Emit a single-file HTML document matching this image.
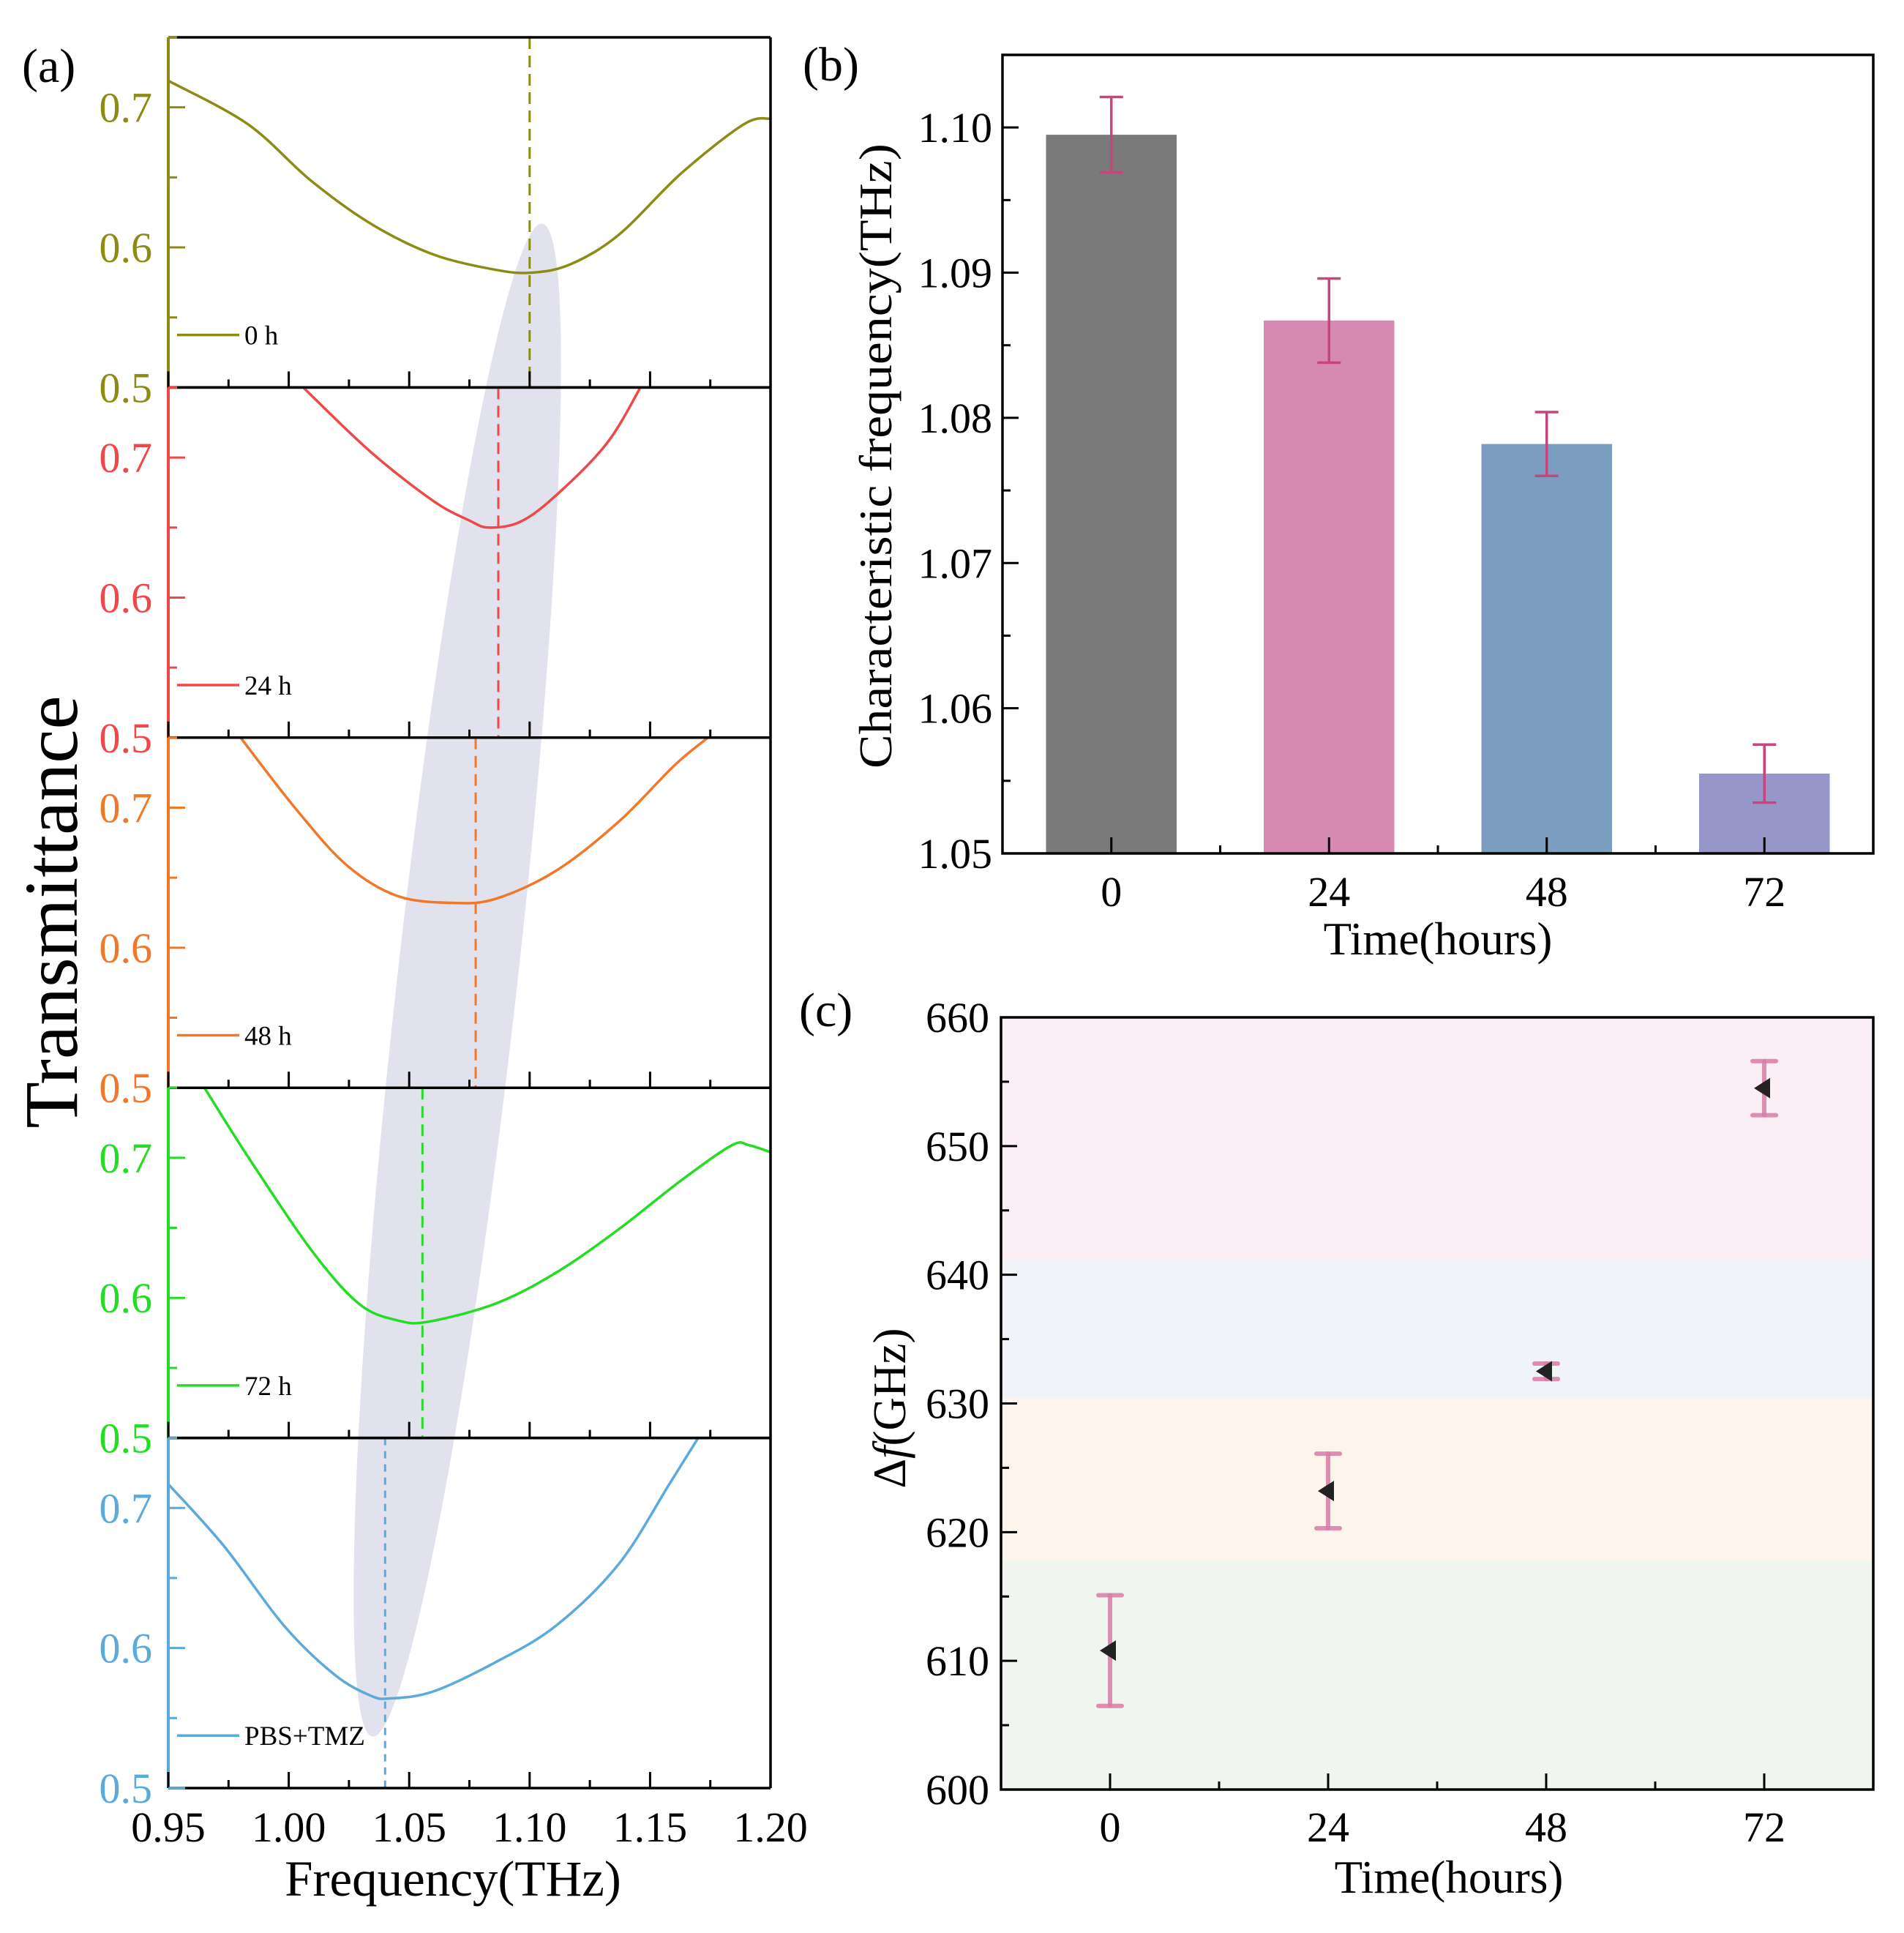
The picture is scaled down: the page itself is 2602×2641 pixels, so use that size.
<!DOCTYPE html>
<html><head><meta charset="utf-8"><style>
html,body{margin:0;padding:0;background:#fff;}
svg{display:block;font-family:"Liberation Serif",serif;}
</style></head><body>
<svg id="fig" xmlns="http://www.w3.org/2000/svg" width="2602" height="2641" viewBox="0 0 2602 2641">
<rect width="2602" height="2641" fill="#fff"/>
<g id="pa"></g>
<g id="pb"></g>
<g id="pc"></g>
</svg>
<script>
// ---------- Panel (a) data ----------
const aLabels = ["0 h","24 h","48 h","72 h","PBS+TMZ"];
const aColors = ["#8c8c14","#f04848","#f07828","#22dd22","#5aaadc"];
const aDips = [1.100, 1.087, 1.0776, 1.0555, 1.040];
const aF0 = [0.95,0.983,1.009,1.034,1.060,1.086,1.101,1.117,1.137,1.163,1.189,1.20];
const aT0 = [0.719,0.688,0.648,0.617,0.595,0.584,0.582,0.588,0.609,0.653,0.688,0.692];
const aF1 = [1.006,1.034,1.060,1.075,1.083,1.096,1.111,1.132,1.146];
const aT1 = [0.75,0.704,0.669,0.655,0.650,0.654,0.673,0.710,0.75];
const aF2 = [0.980,1.003,1.024,1.045,1.068,1.086,1.111,1.137,1.160,1.174];
const aT2 = [0.75,0.699,0.659,0.637,0.632,0.635,0.655,0.690,0.730,0.75];
const aF3 = [0.965,0.983,1.009,1.029,1.045,1.058,1.086,1.111,1.137,1.163,1.184,1.191,1.20];
const aT3 = [0.75,0.701,0.635,0.596,0.584,0.583,0.596,0.618,0.649,0.684,0.709,0.709,0.704];
const aF4 = [0.95,0.973,0.998,1.019,1.034,1.042,1.060,1.086,1.111,1.137,1.158,1.170];
const aT4 = [0.717,0.673,0.616,0.581,0.566,0.564,0.569,0.590,0.616,0.660,0.717,0.75];
const aXTicks = ["0.95","1.00","1.05","1.10","1.15","1.20"];
const aYTicks = ["0.5","0.6","0.7"];
// ---------- Panel (b) data ----------
const bCats = ["0","24","48","72"];
const bHours = [0,24,48,72];
const bVals = [1.0995,1.0867,1.0782,1.0555];
const bErr = [0.0026,0.0029,0.0022,0.0020];
const bColors = ["#7a7a7a","#d68ab2","#7b9dbf","#9696c8"];
const bYTicks = ["1.05","1.06","1.07","1.08","1.09","1.10"];
// ---------- Panel (c) data ----------
const cHours = [0,24,48,72];
const cVals = [610.8,623.2,632.5,654.5];
const cErr = [4.3,2.9,0.6,2.1];
const cBandLo = [600,617.8,630.4,641.2];
const cBandHi = [617.8,630.4,641.2,660];
const cBandColors = ["#f0f5ef","#fdf5ec","#f0f3f8","#fbeef4"];
const cYTicks = ["600","610","620","630","640","650","660"];

const NS="http://www.w3.org/2000/svg";
function mk(parent, tag, attrs, text){
  const e=document.createElementNS(NS,tag);
  for(const k in attrs) e.setAttribute(k,attrs[k]);
  if(text!==undefined) e.textContent=text;
  parent.appendChild(e); return e;
}
function smoothPath(pts){
  let d='M'+pts[0][0].toFixed(1)+','+pts[0][1].toFixed(1);
  for(let i=0;i<pts.length-1;i++){
    const p0=pts[Math.max(0,i-1)],p1=pts[i],p2=pts[i+1],p3=pts[Math.min(pts.length-1,i+2)];
    const c1x=p1[0]+(p2[0]-p0[0])/6,c1y=p1[1]+(p2[1]-p0[1])/6;
    const c2x=p2[0]-(p3[0]-p1[0])/6,c2y=p2[1]-(p3[1]-p1[1])/6;
    d+=`C${c1x.toFixed(1)},${c1y.toFixed(1)} ${c2x.toFixed(1)},${c2y.toFixed(1)} ${p2[0].toFixed(1)},${p2[1].toFixed(1)}`;
  }
  return d;
}

// ===== Panel A =====
(function(){
  const g=document.getElementById('pa');
  const L=230,R=1053,T=51,B=2443,H=(B-T)/5;
  const fx=f=>L+(f-0.95)/0.25*(R-L);
  const Fs=[aF0,aF1,aF2,aF3,aF4], Ts=[aT0,aT1,aT2,aT3,aT4];
  const el=mk(g,'ellipse',{cx:625,cy:1339,rx:82,ry:1040,fill:'#e2e2ef',transform:'rotate(6.4 625 1339)'});
  
  
  for(let i=0;i<5;i++){
    const top=T+i*H, bot=top+H;
    const fy=t=>bot-(t-0.5)/0.25*H;
    const col=aColors[i];
    const sg=mk(g,'g',{});
    
    
    const pts=Fs[i].map((f,j)=>[fx(f),fy(Ts[i][j])]);
    const pth=mk(sg,'path',{d:smoothPath(pts),fill:'none',stroke:col,'stroke-width':3.5,'stroke-linejoin':'round'});
    
    
    const dl=mk(sg,'line',{x1:fx(aDips[i]),x2:fx(aDips[i]),y1:top,y2:bot,stroke:col,'stroke-width':3,'stroke-dasharray':i==4?'10,8':'16,9'});
    
    
    mk(sg,'line',{x1:L,x2:R,y1:top,y2:top,stroke:'#000','stroke-width':3.5});
    mk(sg,'line',{x1:R,x2:R,y1:top,y2:bot,stroke:'#000','stroke-width':3.5});
    mk(sg,'line',{x1:L,x2:R,y1:bot,y2:bot,stroke:'#000','stroke-width':3.5});
    mk(sg,'line',{x1:L,x2:L,y1:top,y2:bot,stroke:col,'stroke-width':4});
    for(let k=0;k<=10;k++){ const f=0.95+k*0.025, x=fx(f); const len=(k%2==0)?22:11;
      mk(sg,'line',{x1:x,x2:x,y1:bot,y2:bot-len,stroke:'#000','stroke-width':3}); }
    for(let k=0;k<6;k++){ const t=0.5+k*0.05, y=fy(t); const len=(k%2==0)?23:12;
      mk(sg,'line',{x1:L,x2:L+len,y1:y,y2:y,stroke:col,'stroke-width':3}); }
    aYTicks.forEach(s=>{ const tx=mk(sg,'text',{x:208,y:fy(parseFloat(s))+20,'font-size':58,fill:col,'text-anchor':'end'},s);
      
       });
    const ly=top+H*0.85;
    mk(sg,'line',{x1:242,x2:327,y1:ly,y2:ly,stroke:col,'stroke-width':3.5});
    const lt=mk(sg,'text',{x:334,y:ly+13,'font-size':37,fill:'#000'},aLabels[i]);
    
    
  }
  aXTicks.forEach(s=>{ const tx=mk(g,'text',{x:fx(parseFloat(s)),y:2516,'font-size':58,'text-anchor':'middle'},s);
    
     });
  const xt=mk(g,'text',{x:619,y:2590,'font-size':69,'text-anchor':'middle'},'Frequency(THz)');
  
  
  const yt=mk(g,'text',{x:0,y:0,'font-size':104,'text-anchor':'middle',transform:'translate(105,1246) rotate(-90)'},'Transmittance');
  
  
  const pl=mk(g,'text',{x:30,y:112,'font-size':66},'(a)');
  
  
})();

// ===== Panel B =====
(function(){
  const g=document.getElementById('pb');
  const L=1370,R=2560,T=75,B=1166;
  const fx=h=>L+(h+12)/96*(R-L);
  const fy=v=>B-(v-1.05)/0.055*(B-T);
  for(let i=0;i<bVals.length;i++){
    const bw=14.4/96*(R-L);
    const r=mk(g,'rect',{x:fx(bHours[i])-bw/2,y:fy(bVals[i]),width:bw,height:B-fy(bVals[i]),fill:bColors[i]});
    
    
    const x=fx(bHours[i]), y1=fy(bVals[i]+bErr[i]), y2=fy(bVals[i]-bErr[i]);
    const eg=mk(g,'g',{stroke:'#c8447f','stroke-width':3.5});
    
    
    mk(eg,'line',{x1:x,x2:x,y1:y1,y2:y2});
    mk(eg,'line',{x1:x-16,x2:x+16,y1:y1,y2:y1});
    mk(eg,'line',{x1:x-16,x2:x+16,y1:y2,y2:y2});
  }
  mk(g,'rect',{x:L,y:T,width:R-L,height:B-T,fill:'none',stroke:'#000','stroke-width':3.5});
  for(let k=0;k<=10;k++){ const v=1.05+k*0.005, y=fy(v); const len=(k%2==0)?22:11;
    mk(g,'line',{x1:L,x2:L+len,y1:y,y2:y,stroke:'#000','stroke-width':3}); }
  for(let h=0;h<=72;h+=12){ const x=fx(h), len=(h%24==0)?22:11;
    mk(g,'line',{x1:x,x2:x,y1:B,y2:B-len,stroke:'#000','stroke-width':3}); }
  bYTicks.forEach(s=>{ const t=mk(g,'text',{x:1356,y:fy(parseFloat(s))+20,'font-size':58,'text-anchor':'end'},s);
    
     });
  bCats.forEach((s,i)=>{ const t=mk(g,'text',{x:fx(bHours[i]),y:1238,'font-size':58,'text-anchor':'middle'},s);
    
     });
  const xt=mk(g,'text',{x:1965,y:1304,'font-size':63,'text-anchor':'middle'},'Time(hours)');
  
  
  const yt=mk(g,'text',{x:0,y:0,'font-size':63,'text-anchor':'middle',textLength:854,lengthAdjust:'spacingAndGlyphs',transform:'translate(1218,623) rotate(-90)'},'Characteristic frequency(THz)');
  
  
  const pl=mk(g,'text',{x:1097,y:110,'font-size':66},'(b)');
  
  
})();

// ===== Panel C =====
(function(){
  const g=document.getElementById('pc');
  const L=1368,R=2560,T=1390,B=2445;
  const fx=h=>L+(h+12)/96*(R-L);
  const fy=v=>B-(v-600)/60*(B-T);
  for(let i=0;i<cBandLo.length;i++){
    const r=mk(g,'rect',{x:L,y:fy(cBandHi[i]),width:R-L,height:fy(cBandLo[i])-fy(cBandHi[i]),fill:cBandColors[i]});
    
    
  }
  for(let i=0;i<cVals.length;i++){
    const x=fx(cHours[i]), y=fy(cVals[i]), y1=fy(cVals[i]+cErr[i]), y2=fy(cVals[i]-cErr[i]);
    const eg=mk(g,'g',{stroke:'#d97aa6','stroke-width':6,'stroke-opacity':0.85,'stroke-linecap':'round'});
    
    
    mk(eg,'line',{x1:x,x2:x,y1:y1,y2:y2});
    mk(eg,'line',{x1:x-16,x2:x+16,y1:y1,y2:y1});
    mk(eg,'line',{x1:x-16,x2:x+16,y1:y2,y2:y2});
    const m=mk(g,'path',{d:`M${x-14},${y} L${x+8},${y-14} L${x+8},${y+14} Z`,fill:'#222'});
    
    
  }
  mk(g,'rect',{x:L,y:T,width:R-L,height:B-T,fill:'none',stroke:'#000','stroke-width':3.5});
  for(let k=0;k<=12;k++){ const v=600+k*5, y=fy(v); const len=(k%2==0)?22:11;
    mk(g,'line',{x1:L,x2:L+len,y1:y,y2:y,stroke:'#000','stroke-width':3}); }
  for(let h=0;h<=72;h+=12){ const x=fx(h), len=(h%24==0)?22:11;
    mk(g,'line',{x1:x,x2:x,y1:B,y2:B-len,stroke:'#000','stroke-width':3}); }
  cYTicks.forEach(s=>{ const t=mk(g,'text',{x:1352,y:fy(parseFloat(s))+20,'font-size':58,'text-anchor':'end'},s);
    
     });
  cHours.forEach(h=>{ const t=mk(g,'text',{x:fx(h),y:2516,'font-size':58,'text-anchor':'middle'},String(h));
    
     });
  const xt=mk(g,'text',{x:1980,y:2586,'font-size':63,'text-anchor':'middle'},'Time(hours)');
  
  
  const yt=mk(g,'text',{x:0,y:0,'font-size':63,'text-anchor':'middle',transform:'translate(1237,1924) rotate(-90)'});
  
  
  mk(yt,'tspan',{},'Δ');
  mk(yt,'tspan',{'font-style':'italic'},'f');
  mk(yt,'tspan',{},'(GHz)');
  const pl=mk(g,'text',{x:1092,y:1402,'font-size':66},'(c)');
  
  
})();
</script>
</body></html>
